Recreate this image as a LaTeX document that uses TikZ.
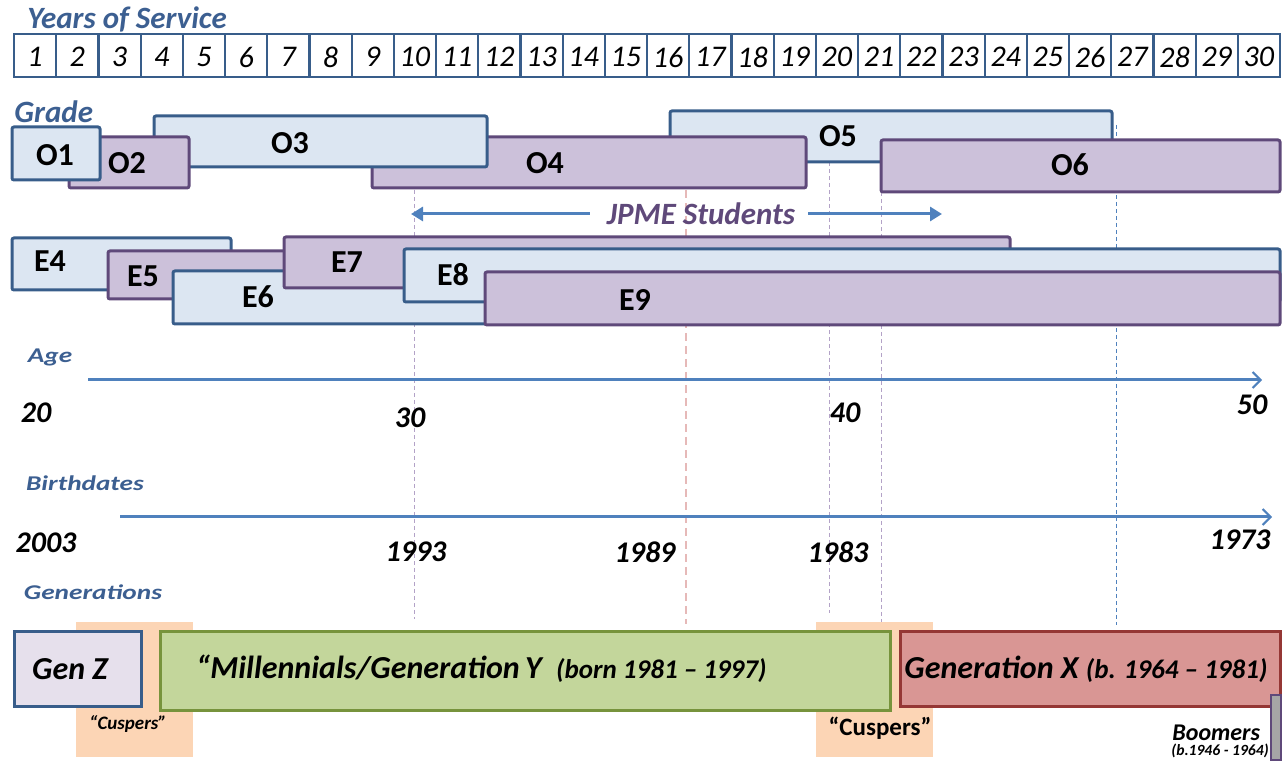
\documentclass[tikz,border=0pt]{standalone}
\usepackage{fontspec}
\setmainfont{Carlito}
\usetikzlibrary{arrows.meta}
\definecolor{blueline}{HTML}{385D8A}
\definecolor{bluetext}{HTML}{3C5F91}
\definecolor{bluefill}{HTML}{DCE6F2}
\definecolor{purpleline}{HTML}{5F497A}
\definecolor{purplefill}{HTML}{CCC1DA}
\definecolor{arrowblue}{HTML}{4F81BD}
\definecolor{guidepurple}{HTML}{B3A2C7}
\definecolor{guidepink}{HTML}{E6B9B8}
\definecolor{cuspfill}{HTML}{FCD5B5}
\definecolor{genzfill}{HTML}{E6E0EC}
\definecolor{millfill}{HTML}{C3D69B}
\definecolor{millline}{HTML}{77933C}
\definecolor{genxfill}{HTML}{D99694}
\definecolor{genxline}{HTML}{953735}
\definecolor{boomfill}{HTML}{A6A6A6}
\newcommand{\fsz}[1]{\fontsize{#1}{#1}\selectfont}
\newcommand{\wide}[1]{\scalebox{1.3}[1]{#1}}

\begin{document}
\begin{tikzpicture}[x=0.5pt, y=-0.5pt,
  yearbox/.style={draw=blueline, line width=1.1pt, fill=white},
  yearnum/.style={inner sep=0pt, font=\fsz{15}\itshape},
  heading/.style={inner sep=0pt, text=bluetext, font=\fsz{15.5}\bfseries\itshape},
  subhead/.style={inner sep=0pt, text=bluetext, font=\fsz{10.5}\bfseries\itshape},
  bluebar/.style={draw=blueline, fill=bluefill, line width=1.5pt, rounded corners=1pt},
  purplebar/.style={draw=purpleline, fill=purplefill, line width=1.5pt, rounded corners=1pt},
  barlabel/.style={inner sep=0pt, font=\fsz{16}\bfseries},
  axisnum/.style={inner sep=0pt, font=\fsz{15}\bfseries\itshape},
  axis/.style={draw=arrowblue, line width=1.5pt, -{Straight Barb[length=4pt, width=8pt, line width=1pt]}},
  jpmearrow/.style={draw=arrowblue, line width=1.5pt, -{Triangle[length=6pt, width=7pt]}},
  guide/.style={draw=guidepurple, line width=0.5pt, dash pattern=on 2pt off 1.5pt},
  genlabel/.style={inner sep=0pt, font=\fsz{16}\bfseries\itshape}]
  \useasboundingbox (0,0) rectangle (1286,763);

  % ---------------------------------------------------------------- years of service
  \node[heading, anchor=west] (yos) at (27,19) {Years of Service};
  \foreach \i in {1,...,30}{
    \pgfmathsetmacro{\xl}{14+42.2*(\i-1)}
    \draw[yearbox] (\xl,34) rectangle ++(42.2,43);
    \node[yearnum] (yr\i) at (\xl+21.1,57) {\i};
  }

  % ---------------------------------------------------------------- guide lines, behind the bars
  \draw[guide] (414,190) -- (414,619);
  \draw[draw=guidepink, line width=1pt, dash pattern=on 4pt off 2.5pt] (686,190) -- (686,624);
  \draw[guide] (829,162) -- (829,613);
  \draw[guide] (881,192) -- (881,626);
  \draw[guide, draw=arrowblue] (1116,125) -- (1116,625);

  % ---------------------------------------------------------------- officer grades
  \node[heading, anchor=west] (grade) at (14,112) {Grade};
  \draw[bluebar] (670,111) rectangle (1112,162);
  \node[barlabel] (o5) at (838,136) {O5};
  \draw[purplebar] (372,137) rectangle (806,188);
  \node[barlabel] (o4) at (545,163) {O4};
  \draw[bluebar] (154,116) rectangle (487,167);
  \node[barlabel] (o3) at (290,143) {O3};
  \draw[purplebar] (881,140) rectangle (1280,192);
  \node[barlabel] (o6) at (1070,165) {O6};
  \draw[purplebar] (69,137) rectangle (189,188);
  \node[barlabel] (o2) at (127,163) {O2};
  \draw[bluebar] (12,127) rectangle (100,180);
  \node[barlabel] (o1) at (55,155) {O1};

  % JPME students
  \node[inner sep=0pt, text=purpleline, font=\fsz{15.5}\bfseries\itshape] (jpme) at (701,214) {JPME Students};
  \coordinate (jpmeleft) at (411,214);
  \coordinate (jpmeright) at (942,214);
  \draw[jpmearrow] ([xshift=-8.5pt]jpme.west) -- (jpmeleft);
  \draw[jpmearrow] ([xshift=6.5pt]jpme.east) -- (jpmeright);

  % ---------------------------------------------------------------- enlisted grades
  \draw[bluebar] (12,238) rectangle (231,290);
  \node[barlabel] (e4) at (50,261) {E4};
  \draw[purplebar] (108,251) rectangle (300,299);
  \node[barlabel] (e5) at (143,276) {E5};
  \draw[bluebar] (173,271) rectangle (540,324);
  \node[barlabel] (e6) at (258,297) {E6};
  \draw[purplebar] (284,237) rectangle (1010,288);
  \node[barlabel] (e7) at (347,262) {E7};
  \draw[bluebar] (404,249) rectangle (1280,302);
  \node[barlabel] (e8) at (453,275) {E8};
  \draw[purplebar] (485,272) rectangle (1280,325);
  \node[barlabel] (e9) at (635,300) {E9};

  % ---------------------------------------------------------------- age
  \node[subhead] (age) at (50,357) {\wide{Age}};
  \coordinate (agestart) at (88,380);
  \coordinate (ageend) at (1262,380);
  \draw[axis] (agestart) -- (ageend);
  \node[axisnum] (a20) at (36,413) {20};
  \node[axisnum] (a30) at (410,418) {30};
  \node[axisnum] (a40) at (845,413) {40};
  \node[axisnum] (a50) at (1252,405) {50};

  % ---------------------------------------------------------------- birthdates
  \node[subhead] (birth) at (85,483) {\wide{Birthdates}};
  \coordinate (birthstart) at (120,517);
  \coordinate (birthend) at (1272,517);
  \draw[axis] (birthstart) -- (birthend);
  \node[axisnum] (b2003) at (46,543) {2003};
  \node[axisnum] (b1993) at (416,552) {1993};
  \node[axisnum] (b1989) at (645,552) {1989};
  \node[axisnum] (b1983) at (838,552) {1983};
  \node[axisnum] (b1973) at (1240,540) {1973};

  % ---------------------------------------------------------------- generations
  \node[subhead] (gens) at (93,592) {\wide{Generations}};
  \fill[cuspfill] (76,622) rectangle (193,757);
  \fill[cuspfill] (816,622) rectangle (933,757);
  \draw[draw=blueline, fill=genzfill, line width=1.5pt] (14,632) rectangle (141,707);
  \node[genlabel] (genz) at (70,669) {Gen Z};
  \draw[draw=millline, fill=millfill, line width=1.5pt] (160,632) rectangle (890,711);
  \node[genlabel, anchor=west] (mill) at (196,669) {“Millennials/Generation\,Y\ \ {\fsz{13.5}(born 1981 – 1997)}};
  \draw[draw=genxline, fill=genxfill, line width=1.5pt] (900,632) rectangle (1280,707);
  \node[genlabel, anchor=west] (genx) at (904,669) {Generation X {\fsz{13.5}(b. 1964 – 1981)}};
  \draw[draw=purpleline, fill=boomfill, line width=1pt] (1271,695) rectangle (1281,760);
  \node[inner sep=0pt, font=\fsz{9.5}\bfseries\itshape] (cuspleft) at (128,724) {“Cuspers”};
  \node[inner sep=0pt, font=\fsz{12.5}\bfseries] (cuspright) at (880,728) {“Cuspers”};
  \node[inner sep=0pt, font=\fsz{12}\bfseries\itshape, anchor=west] (boom) at (1172,733) {Boomers};
  \node[inner sep=0pt, font=\fsz{7.8}\bfseries\itshape, anchor=west] (boomyears) at (1171,751) {(b.1946 - 1964)};
\end{tikzpicture}
\end{document}
